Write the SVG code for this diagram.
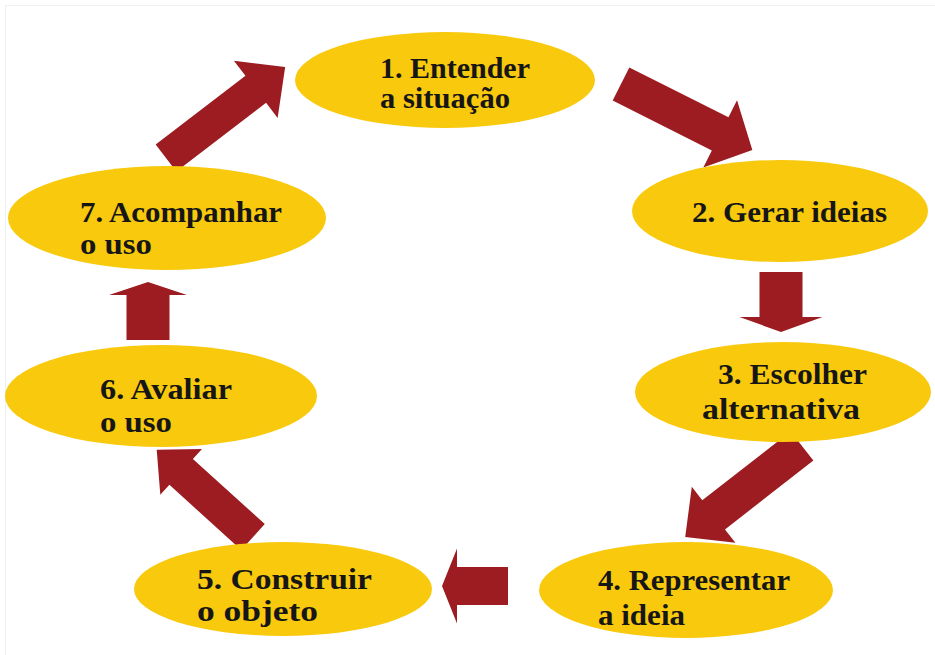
<svg xmlns="http://www.w3.org/2000/svg" width="935" height="655" viewBox="0 0 935 655">
  <style>
    .node ellipse { fill: #f8c90c; }
    .node text { font-family: 'Liberation Serif', 'Times New Roman', Times, serif; font-weight: 700; font-size: 30px; fill: #161616; }
    .arrow { fill: #9c1c21; }
  </style>
  <rect x="0" y="0" width="935" height="655" fill="#ffffff"/>
  <rect x="5.5" y="5.5" width="935" height="655" fill="none" stroke="#eef0f3" stroke-width="1"/>

  <g id="connectors">
    <polygon class="arrow" transform="translate(166,158) rotate(-37.4)" points="0,-17 113,-17 113,-36 150,0 113,36 113,17 0,17"/>
    <polygon class="arrow" transform="translate(621,84) rotate(26.7)" points="0,-18.5 111,-18.5 111,-37.5 147,0 111,37.5 111,18.5 0,18.5"/>
    <polygon class="arrow" transform="translate(781,272) rotate(90)" points="0,-21.5 45,-21.5 45,-41.5 60,0 45,41.5 45,21.5 0,21.5"/>
    <polygon class="arrow" transform="translate(802,446) rotate(142.1)" points="0,-18.5 112,-18.5 112,-35.5 148,0 112,35.5 112,18.5 0,18.5"/>
    <polygon class="arrow" transform="translate(508,586) rotate(180)" points="0,-19 51,-19 51,-37.5 66,0 51,37.5 51,19 0,19"/>
    <polygon class="arrow" transform="translate(253,537) rotate(-137.8)" points="0,-17.5 97,-17.5 97,-31 130,0 97,31 97,17.5 0,17.5"/>
    <polygon class="arrow" transform="translate(148,340) rotate(-90)" points="0,-21.5 45,-21.5 45,-39 58,0 45,39 45,21.5 0,21.5"/>
  </g>

  <g id="node1" class="node">
    <ellipse cx="445" cy="80" rx="150" ry="48"/>
    <text x="380" y="78" textLength="150" lengthAdjust="spacingAndGlyphs">1. Entender</text>
    <text x="380" y="108" textLength="130" lengthAdjust="spacingAndGlyphs">a situação</text>
  </g>
  <g id="node2" class="node">
    <ellipse cx="780" cy="211" rx="148" ry="51"/>
    <text x="692" y="222" textLength="195" lengthAdjust="spacingAndGlyphs">2. Gerar ideias</text>
  </g>
  <g id="node3" class="node">
    <ellipse cx="783" cy="392" rx="148" ry="50"/>
    <text x="718" y="384" textLength="149" lengthAdjust="spacingAndGlyphs">3. Escolher</text>
    <text x="702" y="419" textLength="158" lengthAdjust="spacingAndGlyphs">alternativa</text>
  </g>
  <g id="node4" class="node">
    <ellipse cx="686" cy="590" rx="147" ry="48"/>
    <text x="598" y="590" textLength="192" lengthAdjust="spacingAndGlyphs">4. Representar</text>
    <text x="598" y="625" textLength="87" lengthAdjust="spacingAndGlyphs">a ideia</text>
  </g>
  <g id="node5" class="node">
    <ellipse cx="283" cy="589" rx="149" ry="47"/>
    <text x="197" y="589" textLength="175" lengthAdjust="spacingAndGlyphs">5. Construir</text>
    <text x="197" y="621" textLength="121" lengthAdjust="spacingAndGlyphs">o objeto</text>
  </g>
  <g id="node6" class="node">
    <ellipse cx="161" cy="396" rx="156" ry="51"/>
    <text x="100" y="399" textLength="132" lengthAdjust="spacingAndGlyphs">6. Avaliar</text>
    <text x="100" y="432" textLength="72" lengthAdjust="spacingAndGlyphs">o uso</text>
  </g>
  <g id="node7" class="node">
    <ellipse cx="167" cy="218" rx="159" ry="52"/>
    <text x="80" y="222" textLength="202" lengthAdjust="spacingAndGlyphs">7. Acompanhar</text>
    <text x="80" y="254" textLength="72" lengthAdjust="spacingAndGlyphs">o uso</text>
  </g>
</svg>
